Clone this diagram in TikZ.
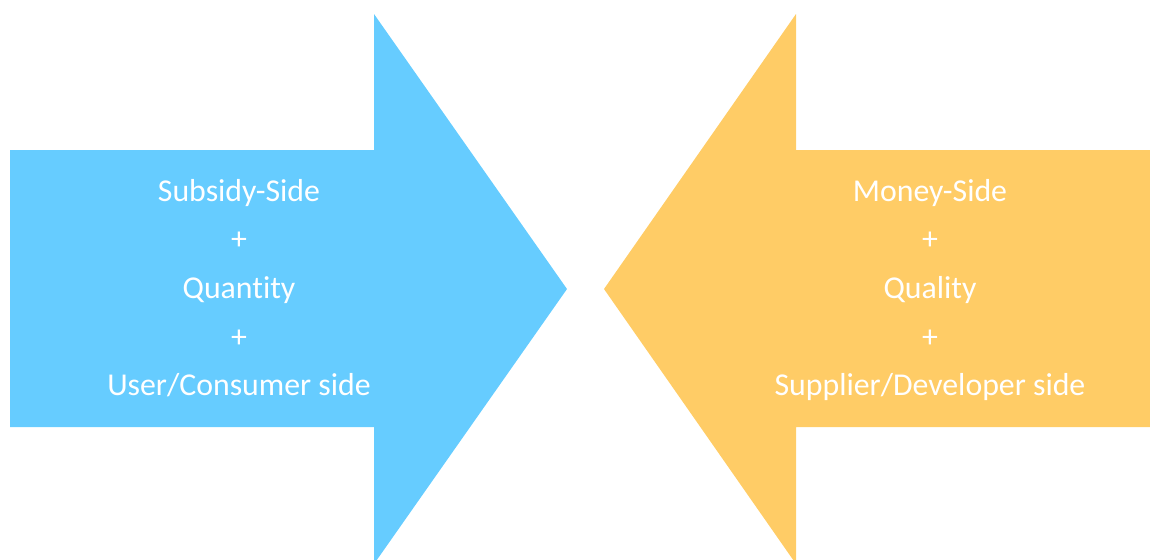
\documentclass[tikz,border=0pt]{standalone}
\usepackage{fontspec}
\setmainfont[Ligatures={NoCommon,NoContextual},Contextuals=NoAlternate]{Carlito}
\definecolor{subsidyblue}{HTML}{66CCFF}
\definecolor{moneyorange}{HTML}{FFCC66}

\begin{document}
\begin{tikzpicture}[x=0.02cm, y=-0.02cm,
        nodes={draw=none, anchor=center, align=center, text=white, inner sep=0pt,
               font=\fontsize{18.1}{27.7}\selectfont}]
        \useasboundingbox (0,0) rectangle (1150,559);
        \clip (0,0) rectangle (1150,559);
        % left arrow, pointing right
        \fill[subsidyblue] (10,150) -- (374,150) -- (374,14) -- (567,289) -- (374,564) -- (374,427) -- (10,427) -- cycle;
        % right arrow, pointing left
        \fill[moneyorange] (1150,150) -- (796,150) -- (796,14) -- (604,289) -- (796,564) -- (796,427) -- (1150,427) -- cycle;

        \node (subsidy) at (239,288) {Subsidy-Side\\+\\Quantity\\+\\User/Consumer side};
        \node (money) at (930,290) {Money-Side\\+\\Quality\\+\\Supplier/Developer side};
    \end{tikzpicture}
\end{document}
